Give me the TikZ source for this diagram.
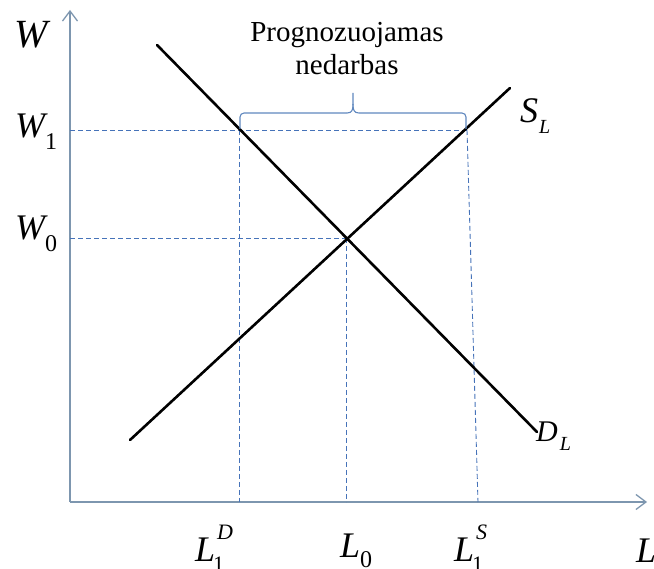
\documentclass[tikz,border=0pt]{standalone}
\usepackage{fontspec}
\setmainfont{Liberation Serif}
\usetikzlibrary{arrows.meta}
\definecolor{axiscol}{RGB}{125,150,175}
\definecolor{dashcol}{RGB}{70,115,185}
\definecolor{bracecol}{RGB}{95,135,190}
\newcommand\fs[1]{\fontsize{#1}{#1}\selectfont}
\newcommand\lbl[3]{#1\rlap{\kern2pt\raisebox{0.6em}{\fs{22}\itshape #2}}\kern-2pt\raisebox{-0.28em}{\fs{22}\upshape #3}}

\begin{document}

\begin{tikzpicture}[x=1pt,y=-1pt,
  axis/.style={draw=axiscol,line width=1.3pt,-{Straight Barb[length=10pt,width=15pt,line width=1.3pt]}},
  curve/.style={line width=2.6pt,black,line cap=round},
  guide/.style={draw=dashcol,line width=0.9pt,dash pattern=on 5pt off 3pt},
  bracestyle/.style={draw=bracecol,line width=1.1pt},
  lab/.style={inner sep=0pt,anchor=base west,font=\fs{36}\itshape},
  note/.style={inner sep=0pt,anchor=base,font=\fs{29}}]
\useasboundingbox (0,0) rectangle (654,569);
% axes
\coordinate (O) at (70,502);
\coordinate (ytop) at (70,10);
\coordinate (xend) at (647,502);
\draw[axis] (O) -- (ytop);
\draw[axis] (O) -- (xend);
% key points
\coordinate (A) at (239,130);
\coordinate (B) at (467,130);
\coordinate (E) at (346,238);
\coordinate (yA) at (70,130);
\coordinate (yE) at (70,238);
\coordinate (xA) at (239,502);
\coordinate (xE) at (346,502);
\coordinate (xB) at (478,502);
% dashed guides
\draw[guide] (yA) -- (B);
\draw[guide] (yE) -- (E);
\draw[guide] (A) -- (xA);
\draw[guide] (E) -- (xE);
\draw[guide] (B) -- (xB);
% curves
\coordinate (d1) at (157,45);
\coordinate (d2) at (537,432);
\coordinate (s1) at (130,440);
\coordinate (s2) at (510,88);
\draw[curve] (d1) -- (d2);
\draw[curve] (s1) -- (s2);
% brace
\coordinate (br1) at (240,129);
\coordinate (br2) at (466,129);
\coordinate (tip) at (353,93);
\draw[bracestyle,rounded corners=4pt] (br1) -- (240,113) -- (347,113);
\draw[bracestyle,rounded corners=4pt] (br2) -- (466,113) -- (359,113);
\draw[bracestyle] (347,113) .. controls (352,113) and (353,110) .. (353,104) -- (tip);
\draw[bracestyle] (359,113) .. controls (354,113) and (353,110) .. (353,104);
\node[note] (txt1) at (347,42) {Prognozuojamas};
\node[note] (txt2) at (347,75) {nedarbas};
% labels
\node[lab,font=\fs{40}\itshape] (W) at (14,48) {W};
\node[lab] (W1) at (15,138) {W\raisebox{-0.33em}{\fs{24}\upshape 1}};
\node[lab] (W0) at (15,240) {W\raisebox{-0.33em}{\fs{24}\upshape 0}};
\node[lab] (L1D) at (195,561) {\lbl{L}{D}{1}};
\node[lab] (L0) at (340,557) {L\raisebox{-0.28em}{\fs{24}\upshape 0}};
\node[lab] (L1S) at (454,561) {\lbl{L}{S}{1}};
\node[lab] (L) at (636,562) {L};
\node[lab] (SL) at (520,123) {S\kern1pt\raisebox{-0.3em}{\fs{20}\itshape L}};
\node[lab,font=\fs{30}\itshape] (DL) at (536,442) {D\kern2pt\raisebox{-0.3em}{\fs{20}\itshape L}};
\end{tikzpicture}

\end{document}
